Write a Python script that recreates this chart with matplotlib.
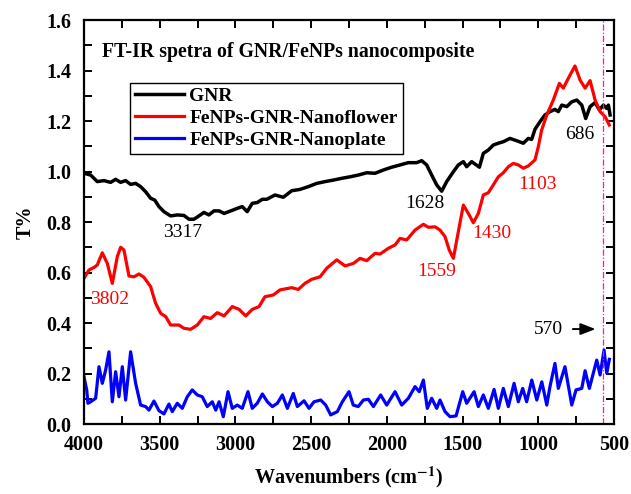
import matplotlib
matplotlib.use("Agg")
import matplotlib.pyplot as plt
from matplotlib.ticker import MultipleLocator, FormatStrFormatter

plt.rcParams["font.family"] = ["Liberation Serif", "DejaVu Serif"]
plt.rcParams["mathtext.fontset"] = "stix"

# ── Spectra ───────────────────────────────────────────────────────────────────
gnr_wn = [4000, 3956, 3912, 3868, 3824, 3791, 3758, 3725, 3692, 3659, 3626, 3593,
          3560, 3533, 3505, 3472, 3428, 3384, 3340, 3307, 3274, 3241, 3208, 3175,
          3142, 3108, 3075, 3031, 2988, 2955, 2922, 2889, 2856, 2822, 2793, 2739,
          2684, 2628, 2574, 2519, 2463, 2408, 2354, 2298, 2243, 2188, 2133, 2078,
          2023, 1968, 1913, 1858, 1803, 1770, 1737, 1704, 1671, 1638, 1605, 1561,
          1528, 1495, 1473, 1440, 1389, 1363, 1330, 1297, 1264, 1231, 1187, 1143,
          1099, 1066, 1044, 1022, 989, 956, 923, 890, 868, 845, 812, 779, 746, 713,
          687, 658, 625, 597, 570, 548, 537, 526]
gnr_t = [0.993, 0.986, 0.960, 0.964, 0.957, 0.969, 0.957, 0.964, 0.949, 0.953, 0.940, 0.920,
         0.894, 0.887, 0.861, 0.841, 0.824, 0.828, 0.826, 0.811, 0.811, 0.824, 0.838, 0.828,
         0.844, 0.844, 0.834, 0.844, 0.854, 0.861, 0.841, 0.874, 0.877, 0.890, 0.890, 0.907,
         0.898, 0.924, 0.929, 0.940, 0.953, 0.960, 0.966, 0.973, 0.979, 0.986, 0.995, 0.993,
         1.006, 1.017, 1.026, 1.035, 1.035, 1.043, 1.026, 0.986, 0.947, 0.922, 0.960, 0.999,
         1.026, 1.039, 1.019, 1.039, 1.017, 1.072, 1.085, 1.105, 1.112, 1.118, 1.131, 1.122,
         1.112, 1.131, 1.127, 1.167, 1.197, 1.224, 1.237, 1.246, 1.237, 1.263, 1.257, 1.276,
         1.283, 1.263, 1.210, 1.257, 1.273, 1.244, 1.263, 1.250, 1.263, 1.224]

flower_wn = [4000, 3967, 3934, 3912, 3879, 3846, 3813, 3780, 3758, 3736, 3703, 3670,
             3637, 3604, 3560, 3527, 3493, 3460, 3428, 3373, 3340, 3296, 3252, 3208,
             3164, 3120, 3075, 3021, 2976, 2932, 2889, 2844, 2805, 2750, 2706, 2628,
             2585, 2541, 2496, 2441, 2397, 2331, 2276, 2221, 2177, 2133, 2078, 2045,
             1990, 1946, 1913, 1869, 1814, 1759, 1726, 1682, 1649, 1616, 1588, 1561,
             1528, 1495, 1462, 1429, 1396, 1363, 1330, 1297, 1264, 1231, 1198, 1165,
             1132, 1099, 1066, 1022, 1000, 978, 944, 901, 861, 835, 802, 758, 724, 691,
             658, 625, 592, 559, 531]
flower_t = [0.577, 0.610, 0.620, 0.630, 0.678, 0.636, 0.557, 0.663, 0.700, 0.689, 0.586, 0.583,
            0.594, 0.581, 0.544, 0.478, 0.438, 0.425, 0.392, 0.392, 0.379, 0.375, 0.392, 0.425,
            0.418, 0.441, 0.428, 0.465, 0.454, 0.428, 0.454, 0.465, 0.504, 0.511, 0.531, 0.540,
            0.533, 0.557, 0.573, 0.583, 0.617, 0.650, 0.626, 0.636, 0.656, 0.647, 0.676, 0.673,
            0.696, 0.709, 0.735, 0.729, 0.768, 0.791, 0.779, 0.781, 0.768, 0.742, 0.689, 0.656,
            0.762, 0.867, 0.834, 0.797, 0.834, 0.907, 0.916, 0.947, 0.979, 0.995, 1.019, 1.032,
            1.026, 1.013, 1.022, 1.046, 1.098, 1.164, 1.224, 1.283, 1.349, 1.330, 1.369, 1.418,
            1.362, 1.330, 1.360, 1.283, 1.237, 1.217, 1.184]

plate_wn = [4000, 3982, 3974, 3956, 3923, 3901, 3879, 3857, 3835, 3813, 3791, 3769,
            3747, 3725, 3692, 3659, 3626, 3593, 3571, 3538, 3505, 3472, 3439, 3417,
            3384, 3351, 3318, 3285, 3252, 3219, 3186, 3153, 3130, 3108, 3080, 3049,
            3021, 2988, 2955, 2917, 2889, 2856, 2822, 2789, 2756, 2723, 2690, 2657,
            2618, 2591, 2547, 2514, 2481, 2437, 2404, 2371, 2327, 2294, 2250, 2222,
            2189, 2155, 2122, 2089, 2041, 2001, 1946, 1902, 1858, 1814, 1786, 1759,
            1733, 1704, 1671, 1649, 1616, 1583, 1543, 1499, 1473, 1424, 1396, 1363,
            1330, 1292, 1264, 1231, 1198, 1160, 1132, 1103, 1077, 1043, 1010, 977,
            944, 923, 890, 868, 824, 779, 751, 713, 691, 663, 637, 614, 592, 566, 548, 531]
plate_t = [0.187, 0.135, 0.082, 0.088, 0.102, 0.227, 0.161, 0.214, 0.286, 0.088, 0.207, 0.108,
           0.227, 0.095, 0.286, 0.161, 0.075, 0.069, 0.055, 0.091, 0.053, 0.040, 0.079, 0.049,
           0.082, 0.062, 0.108, 0.135, 0.115, 0.108, 0.069, 0.088, 0.055, 0.088, 0.029, 0.128,
           0.062, 0.075, 0.062, 0.128, 0.062, 0.082, 0.119, 0.088, 0.069, 0.082, 0.115, 0.062,
           0.121, 0.069, 0.092, 0.062, 0.088, 0.095, 0.075, 0.036, 0.049, 0.088, 0.128, 0.075,
           0.069, 0.095, 0.098, 0.069, 0.115, 0.075, 0.128, 0.075, 0.102, 0.148, 0.128, 0.174,
           0.062, 0.102, 0.062, 0.095, 0.049, 0.029, 0.032, 0.128, 0.082, 0.128, 0.069, 0.115,
           0.062, 0.137, 0.062, 0.141, 0.069, 0.161, 0.088, 0.141, 0.088, 0.174, 0.095, 0.167,
           0.075, 0.148, 0.240, 0.141, 0.227, 0.075, 0.135, 0.141, 0.211, 0.141, 0.201, 0.253,
           0.194, 0.293, 0.201, 0.256]

# peak labels: (text, wavenumber, T%, colour)
peak_labels = [
    ("3317", 3346, 0.760, "black"),
    ("1628", 1748, 0.873, "black"),
    ("686", 724, 1.145, "black"),
    ("3802", 3828, 0.495, "red"),
    ("1559", 1669, 0.605, "red"),
    ("1430", 1308, 0.755, "red"),
    ("1103", 1006, 0.948, "red"),
]
marker_wn = 570

fig = plt.figure(figsize=(6.31, 4.94), dpi=100)
ax = fig.add_axes([0.1331, 0.1417, 0.8400, 0.8178])

ax.plot(gnr_wn, gnr_t, color="black", linewidth=2.5, label="GNR")
ax.plot(flower_wn, flower_t, color="red", linewidth=2.3, label="FeNPs-GNR-Nanoflower")
ax.plot(plate_wn, plate_t, color="blue", linewidth=2.3, label="FeNPs-GNR-Nanoplate")

ax.axvline(marker_wn, color="#ff14b4", linewidth=0.9, linestyle=(0, (5, 1.5, 1, 1.5)))

for txt, wn, t, col in peak_labels:
    ax.text(wn, t, txt, color=col, fontsize=14, ha="center", va="center")

ax.annotate("", xy=(604, 0.376), xytext=(790, 0.376),
            arrowprops=dict(arrowstyle="-|>,head_length=0.9,head_width=0.35",
                            color="black", linewidth=1.4))
ax.text(930, 0.376, "570", fontsize=14, ha="center", va="center")

ax.text(3880, 1.474, "FT-IR spetra of GNR/FeNPs nanocomposite",
        fontsize=14.2, fontweight="bold", ha="left", va="center")

ax.set_xlim(4000, 500)
ax.set_ylim(0, 1.6)
ax.xaxis.set_major_locator(MultipleLocator(500))
ax.xaxis.set_minor_locator(MultipleLocator(250))
ax.yaxis.set_major_locator(MultipleLocator(0.2))
ax.yaxis.set_minor_locator(MultipleLocator(0.1))
ax.yaxis.set_major_formatter(FormatStrFormatter("%.1f"))
ax.tick_params(which="both", direction="in", top=True, right=True, width=1.4)
ax.tick_params(which="major", length=6, labelsize=14.5)
ax.tick_params(which="minor", length=6)
ax.tick_params(axis="x", which="major", pad=8)
ax.tick_params(axis="y", which="major", pad=9)
for lbl in ax.get_xticklabels() + ax.get_yticklabels():
    lbl.set_fontweight("bold")
for sp in ax.spines.values():
    sp.set_linewidth(1.6)

ax.set_xlabel(r"Wavenumbers (cm$^{\mathbf{-1}}$)", fontsize=14.5, fontweight="bold", labelpad=7)
ax.set_ylabel("T%", fontsize=14.5, fontweight="bold", labelpad=8)

leg = ax.legend(loc="upper left", bbox_to_anchor=(0.087, 0.845),
                prop={"weight": "bold", "size": 14}, frameon=True, fancybox=False,
                edgecolor="black", framealpha=1, handlelength=2.5, handletextpad=0.3,
                borderpad=0.25, labelspacing=0.22, borderaxespad=0)
leg.get_frame().set_linewidth(1.0)

fig.savefig("out.png", dpi=100)
